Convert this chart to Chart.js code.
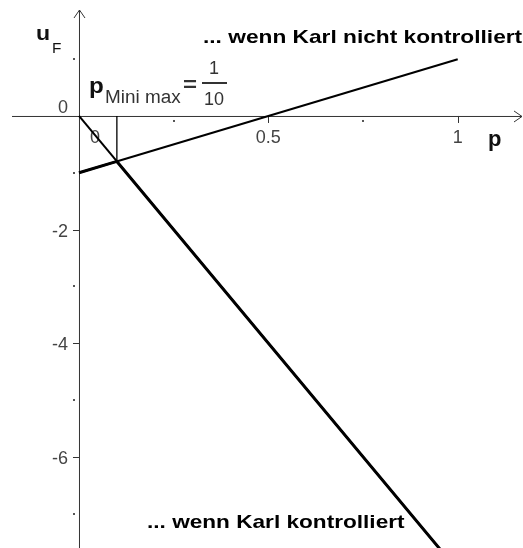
<!DOCTYPE html>
<html>
<head>
<meta charset="utf-8">
<script src="https://cdn.jsdelivr.net/npm/chart.js@4.4.1/dist/chart.umd.min.js"></script>
<style>
  html, body { margin: 0; padding: 0; background: #fff; }
  #wrap { width: 523px; height: 548px; position: relative; }
</style>
</head>
<body>
<div id="wrap"><canvas id="nutzen"></canvas></div>
<script>
// Nutzen u_F von F in Abhängigkeit von p
var pWerte = [0, 1];
var nichtKontrolliert = [-1, 1];      // u_F = 2p - 1
var kontrolliert = [0, -8];           // u_F = -8p
var pMinimax = 0.1;
var uMinimax = -0.8;
// untere Einhüllende (dick gezeichnet)
var huelleP = [0, pMinimax, 1];
var huelleU = [-1, uMinimax, -8];

// Achsen
var xBereich = [-0.2086, 1.1724];
var yBereich = [-7.606, 2.042];
var xTicks = [0.5, 1];
var xTickLabels = ["0.5", "1"];
var xMinor = [0.25, 0.75];
var yTicks = [-2, -4, -6];
var yTickLabels = ["-2", "-4", "-6"];
var yMinor = [1, -1, -3, -5, -7];

function punkte(xs, ys) {
    var out = [];
    for (var i = 0; i < xs.length; i++) out.push({x: xs[i], y: ys[i]});
    return out;
}

var FONT = '"Liberation Sans", Arial, sans-serif';

// Text in die Breite gezogen, damit er wie im Arbeitsblatt aussieht
function breiterText(c, txt, x, y, sx) {
    c.save();
    c.translate(x, y);
    c.scale(sx, 1);
    c.fillText(txt, 0, 0);
    c.restore();
}

// Achsenkreuz, Ticks und Beschriftungen selbst zeichnen
var achsen = {
    id: 'achsen',
    beforeDatasetsDraw: function(chart) {
        var c = chart.ctx, sx = chart.scales.x, sy = chart.scales.y;
        var x0 = sx.getPixelForValue(0), y0 = sy.getPixelForValue(0);
        c.save();
        c.strokeStyle = '#333';
        c.lineWidth = 1;
        c.beginPath();
        c.moveTo(12, y0 + 0.5); c.lineTo(522, y0 + 0.5);
        c.moveTo(x0 + 0.5, 548); c.lineTo(x0 + 0.5, 10);
        // Pfeilspitzen
        c.moveTo(514, y0 - 5); c.lineTo(522, y0 + 0.5); c.lineTo(514, y0 + 6);
        c.moveTo(x0 - 5, 18); c.lineTo(x0 + 0.5, 10); c.lineTo(x0 + 6, 18);
        c.stroke();

        // Hauptticks
        c.beginPath();
        xTicks.forEach(function(v) {
            var px = Math.round(sx.getPixelForValue(v)) + 0.5;
            c.moveTo(px, y0); c.lineTo(px, y0 + 7);
        });
        yTicks.forEach(function(v) {
            var py = Math.round(sy.getPixelForValue(v)) + 0.5;
            c.moveTo(x0 - 6, py); c.lineTo(x0, py);
        });
        c.stroke();

        // Zwischenticks als Punkte
        c.fillStyle = '#555';
        xMinor.forEach(function(v) {
            c.fillRect(Math.round(sx.getPixelForValue(v)) - 1, y0 + 4, 2, 2);
        });
        yMinor.forEach(function(v) {
            c.fillRect(x0 - 6, Math.round(sy.getPixelForValue(v)) - 1, 2, 2);
        });

        // Tickbeschriftung
        c.fillStyle = '#444';
        c.font = '18px ' + FONT;
        c.textBaseline = 'alphabetic';
        c.textAlign = 'center';
        xTicks.forEach(function(v, i) {
            c.fillText(xTickLabels[i], sx.getPixelForValue(v), y0 + 27);
        });
        c.fillText('0', x0 + 16, y0 + 27);
        c.textAlign = 'right';
        yTicks.forEach(function(v, i) {
            c.fillText(yTickLabels[i], x0 - 11, sy.getPixelForValue(v) + 7);
        });
        c.fillText('0', x0 - 11, y0 - 3);

        // Achsentitel
        c.fillStyle = '#111';
        c.textAlign = 'left';
        c.font = 'bold 21px ' + FONT;
        breiterText(c, 'u', 36, 40, 1.1);
        c.font = '14px ' + FONT;
        breiterText(c, 'F', 52, 53, 1.1);
        c.font = 'bold 22px ' + FONT;
        c.fillText('p', 488, 146);
        c.restore();
    },
    afterDatasetsDraw: function(chart) {
        var c = chart.ctx;
        c.save();
        c.fillStyle = '#000';
        c.textAlign = 'left';
        c.textBaseline = 'alphabetic';
        c.font = 'bold 19px ' + FONT;
        breiterText(c, '... wenn Karl nicht kontrolliert', 203, 43, 1.195);
        breiterText(c, '... wenn Karl kontrolliert', 147, 528, 1.19);

        // p_Minimax = 1/10
        c.fillStyle = '#111';
        c.font = 'bold 22px ' + FONT;
        breiterText(c, 'p', 89, 93, 1.1);
        c.fillStyle = '#333';
        c.font = '18px ' + FONT;
        breiterText(c, 'Mini max', 105, 103, 1.05);
        c.font = 'bold 20px ' + FONT;
        breiterText(c, '=', 183, 91, 1.2);
        c.font = '18px ' + FONT;
        c.textAlign = 'center';
        c.fillText('1', 214, 74);
        c.fillText('10', 214, 105);
        c.fillRect(202, 82, 25, 2);
        c.restore();
    }
};

new Chart(document.getElementById('nutzen'), {
    type: 'scatter',
    data: {
        datasets: [{
            // Lot bei p_Minimax
            data: punkte([pMinimax, pMinimax], [0, uMinimax]),
            borderColor: '#000', borderWidth: 1.3,
            showLine: true, pointRadius: 0
        }, {
            label: 'nicht kontrolliert',
            data: punkte(pWerte, nichtKontrolliert),
            borderColor: '#000', borderWidth: 2,
            showLine: true, pointRadius: 0
        }, {
            label: 'kontrolliert',
            data: punkte(pWerte, kontrolliert),
            borderColor: '#000', borderWidth: 2,
            showLine: true, pointRadius: 0
        }, {
            label: 'Minimum',
            data: punkte(huelleP, huelleU),
            borderColor: '#000', borderWidth: 3,
            showLine: true, pointRadius: 0
        }]
    },
    options: {
        responsive: true,
        maintainAspectRatio: false,
        animation: false,
        layout: { padding: 0 },
        plugins: { legend: { display: false }, tooltip: { enabled: false } },
        scales: {
            x: { type: 'linear', min: xBereich[0], max: xBereich[1], display: false },
            y: { type: 'linear', min: yBereich[0], max: yBereich[1], display: false }
        }
    },
    plugins: [achsen]
});
</script>
</body>
</html>
